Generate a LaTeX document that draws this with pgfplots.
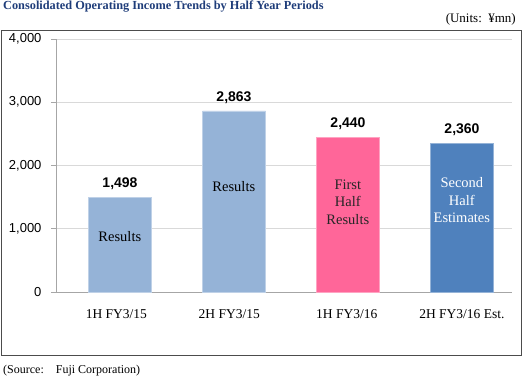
\documentclass[border=0pt]{standalone}
\usepackage{pgfplots}
\pgfplotsset{compat=1.18}
\usepackage{fontspec}
\setmainfont{Liberation Serif}
\newfontfamily\arial{Liberation Sans}
\definecolor{lblue}{HTML}{95B3D7}
\definecolor{pinkbar}{HTML}{FF6699}
\definecolor{dblue}{HTML}{4F81BD}
\definecolor{titleblue}{HTML}{1F3D7A}
\definecolor{gridgray}{HTML}{D9D9D9}
\definecolor{axgray}{HTML}{A6A6A6}
\begin{document}
\begin{tikzpicture}[x=1bp,y=1bp]
\path[use as bounding box] (0,0) rectangle (530,-379);
\node[anchor=north west,inner sep=0pt,text=titleblue,font=\fontsize{12.3bp}{14bp}\selectfont\bfseries] at (3,-1) {Consolidated Operating Income Trends by Half Year Periods};
\node[anchor=north east,inner sep=0pt,font=\fontsize{13bp}{15bp}\selectfont] at (516,-13) {(Units:\ \ ¥mn)};
\node[anchor=north west,inner sep=0pt,font=\fontsize{12bp}{14bp}\selectfont] at (3,-365) {(Source:\quad Fuji Corporation)};
\draw[black!70,line width=0.8bp] (1,-30) rectangle (521,-355);
\begin{axis}[
  at={(56bp,-292bp)}, anchor=south west,
  scale only axis, width=456bp, height=253bp,
  xmin=-0.5, xmax=3.5, ymin=0, ymax=4000,
  ytick={0,1000,2000,3000,4000},
  ymajorgrids, grid style={gridgray,line width=0.8bp},
  axis x line*=bottom, axis y line*=left,
  axis line style={axgray,line width=0.8bp},
  x axis line style={-}, y axis line style={-},
  xtick={0.03,1.02,2.05,3.06},
  xticklabels={1H FY3/15,2H FY3/15,1H FY3/16,2H FY3/16 Est.},
  x tick label style={font=\fontsize{13.5bp}{15bp}\selectfont, yshift=-9bp},
  major x tick style={draw=none},
  extra x ticks={-0.5,0.5,1.5,2.5,3.5},
  extra x tick labels={},
  extra x tick style={tick style={axgray,line width=0.8bp}, major tick length=5bp, grid=none},
  xtick align=outside,
  ytick align=outside,
  major tick length=5bp,
  y tick style={axgray,line width=0.8bp},
  y tick label style={font=\arial\fontsize{13bp}{15bp}\selectfont, xshift=-6bp, /pgf/number format/.cd, fixed, 1000 sep={,}, assume math mode=true},
  ybar, bar width=63bp, bar shift=7bp,
  nodes near coords,
  every node near coord/.append style={font=\arial\bfseries\fontsize{14bp}{16bp}\selectfont, black, yshift=4bp, /pgf/number format/.cd, fixed, 1000 sep={,}, assume math mode=true},
  clip=false,
]
\addplot[fill=lblue, draw=lblue!60!white] coordinates {(0,1498) (1,2863)};
\addplot[fill=pinkbar, draw=pinkbar!60!white] coordinates {(2,2440)};
\addplot[fill=dblue, draw=dblue!60!white] coordinates {(3,2360)};
\node[font=\fontsize{14.5bp}{17.5bp}\selectfont, align=center] at (axis cs:0.06,870) {Results};
\node[font=\fontsize{14.5bp}{17.5bp}\selectfont, align=center] at (axis cs:1.06,1660) {Results};
\node[font=\fontsize{14.5bp}{17.5bp}\selectfont, align=center, text=black!85] at (axis cs:2.06,1420) {First\\Half\\Results};
\node[font=\fontsize{14.5bp}{17.5bp}\selectfont, align=center, text=white] at (axis cs:3.06,1450) {Second\\Half\\Estimates};
\end{axis}
\end{tikzpicture}
\end{document}
